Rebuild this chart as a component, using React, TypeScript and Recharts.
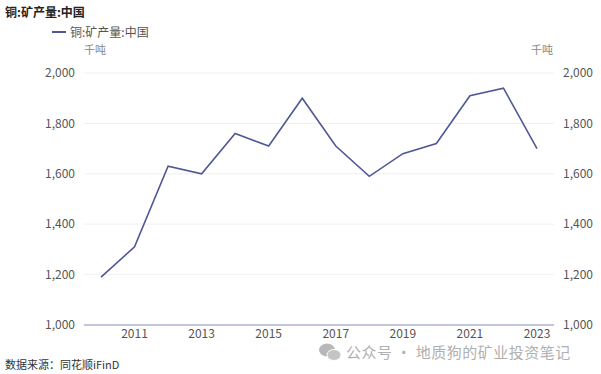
import { LineChart, Line, XAxis, YAxis, CartesianGrid } from "recharts";

// 铜:矿产量:中国 (千吨), annual
const years = [
  "2010", "2011", "2012", "2013", "2014", "2015", "2016",
  "2017", "2018", "2019", "2020", "2021", "2022", "2023",
];
const output = [
  1190, 1310, 1630, 1600, 1760, 1710, 1900,
  1710, 1590, 1680, 1720, 1910, 1940, 1700,
];
const xTickLabels = ["2011", "2013", "2015", "2017", "2019", "2021", "2023"];
const yTicks = [1000, 1200, 1400, 1600, 1800, 2000];

const data = years.map((year, i) => ({ year, value: output[i] }));

const LINE = "#4f5895";
const TEXT = "#555";
const FONT = "'Noto Sans CJK SC', 'Noto Sans', sans-serif";

const fmt = (v: number) => v.toLocaleString("en-US");

export default function App() {
  return (
    <div
      style={{
        position: "absolute",
        left: 0,
        top: 0,
        width: 601,
        height: 374,
        background: "#fff",
        fontFamily: FONT,
        overflow: "hidden",
      }}
    >
      <div style={{ position: "absolute", left: 5, top: 3, fontSize: 12, fontWeight: 700, color: "#222" }}>
        铜:矿产量:中国
      </div>
      <div style={{ position: "absolute", left: 52, top: 23, fontSize: 12, color: TEXT, display: "flex", alignItems: "center" }}>
        <span style={{ display: "inline-block", width: 14, height: 2, background: LINE, marginRight: 4 }} />
        铜:矿产量:中国
      </div>
      <div style={{ position: "absolute", left: 84, top: 41, fontSize: 11, color: "#888" }}>千吨</div>
      <div style={{ position: "absolute", left: 531, top: 41, fontSize: 11, color: "#888" }}>千吨</div>

      <LineChart
        width={601}
        height={374}
        data={data}
        margin={{ top: 73, right: 0, bottom: 0, left: 0 }}
        style={{ position: "absolute", left: 0, top: 0 }}
      >
        <CartesianGrid yAxisId="left" vertical={false} stroke="#efeff6" />
        <XAxis
          dataKey="year"
          interval={0}
          padding={{ left: 17, right: 17 }}
          tickFormatter={(v: string) => (xTickLabels.includes(v) ? v : "")}
          tickLine={false}
          tickSize={4}
          tickMargin={0}
          height={49}
          axisLine={{ stroke: "#8e94bd" }}
          tick={{ fontSize: 12, fill: TEXT }}
        />
        <YAxis
          yAxisId="left"
          orientation="left"
          domain={[1000, 2000]}
          ticks={yTicks}
          tickFormatter={fmt}
          axisLine={false}
          tickLine={false}
          tickSize={6}
          tickMargin={3}
          width={84}
          tick={{ fontSize: 12, fill: TEXT }}
        />
        <YAxis
          yAxisId="right"
          orientation="right"
          domain={[1000, 2000]}
          ticks={yTicks}
          tickFormatter={fmt}
          axisLine={false}
          tickLine={false}
          tickSize={6}
          tickMargin={3}
          width={47}
          tick={{ fontSize: 12, fill: TEXT, textAnchor: "start" }}
        />
        <Line
          yAxisId="left"
          dataKey="value"
          type="linear"
          stroke={LINE}
          strokeWidth={1.6}
          dot={false}
          isAnimationActive={false}
        />
        <Line
          yAxisId="right"
          dataKey="value"
          type="linear"
          stroke="none"
          strokeWidth={0}
          dot={false}
          activeDot={false}
          isAnimationActive={false}
        />
      </LineChart>

      <div style={{ position: "absolute", left: 5, top: 356, fontSize: 11, color: "#333" }}>
        数据来源：同花顺iFinD
      </div>
      <div
        style={{
          position: "absolute",
          left: 318,
          top: 341,
          fontSize: 15,
          color: "#b0b0b0",
          display: "flex",
          alignItems: "center",
          letterSpacing: 0.5,
        }}
      >
        <svg width={24} height={20} style={{ marginRight: 4 }}>
          <ellipse cx={9} cy={8} rx={8} ry={6.5} fill="#b8b8b8" />
          <ellipse cx={16} cy={13} rx={7} ry={5.5} fill="#c4c4c4" stroke="#fff" strokeWidth={1} />
        </svg>
        公众号 · 地质狗的矿业投资笔记
      </div>
    </div>
  );
}
